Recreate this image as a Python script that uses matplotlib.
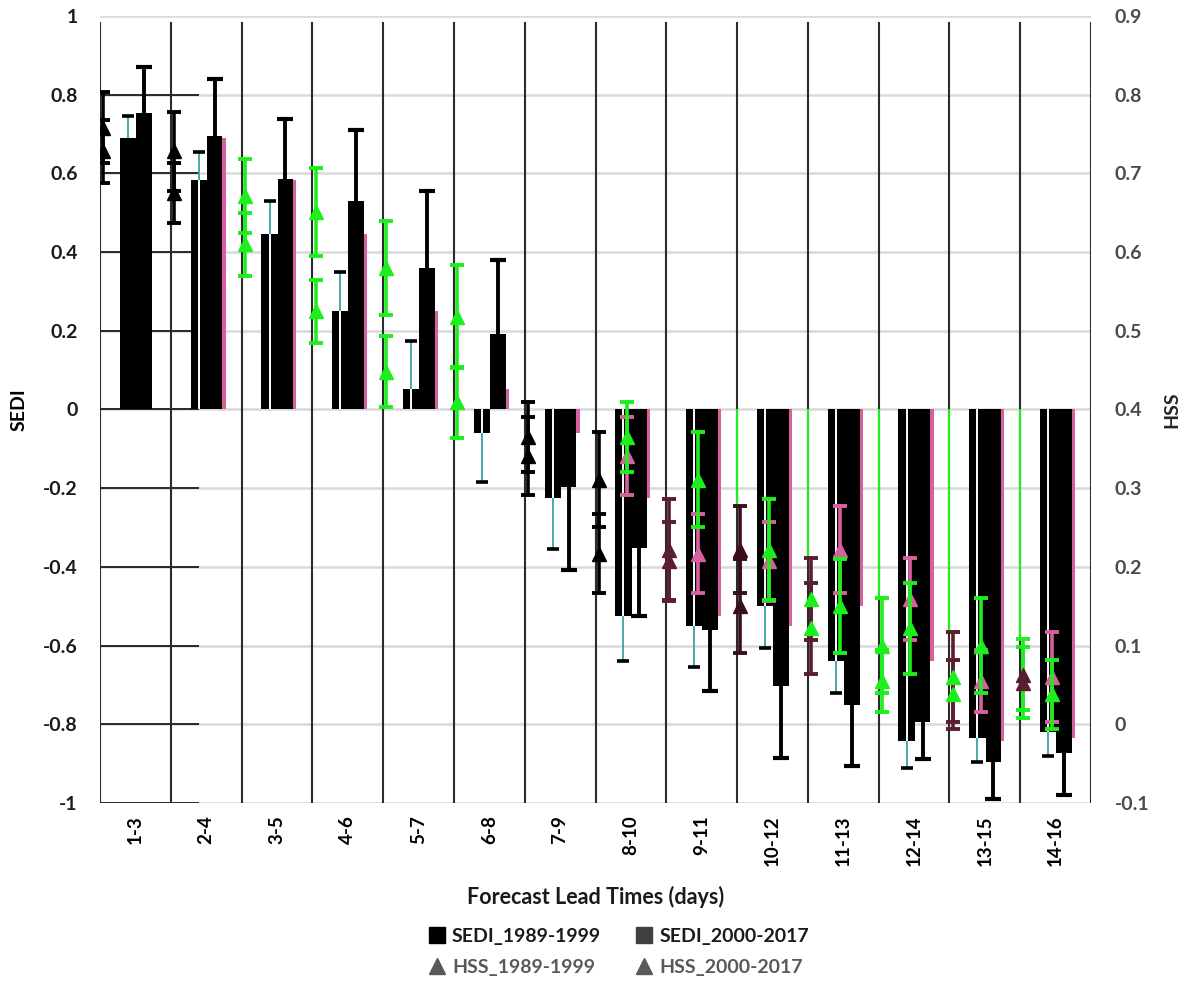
import numpy as np
import matplotlib
matplotlib.use("Agg")
import matplotlib.pyplot as plt
from matplotlib.lines import Line2D

plt.rcParams['font.family'] = ['Lato', 'DejaVu Sans']
plt.rcParams['font.weight'] = 'bold'

# ---------------- data ----------------
categories = ['1-3', '2-4', '3-5', '4-6', '5-7', '6-8', '7-9', '8-10',
              '9-11', '10-12', '11-13', '12-14', '13-15', '14-16']

sedi_8999 = [0.69, 0.583, 0.445, 0.25, 0.052, -0.059, -0.226, -0.525,
             -0.55, -0.50, -0.64, -0.843, -0.836, -0.82]
sedi_8999_err = [0.055, 0.072, 0.085, 0.10, 0.122, 0.125, 0.128, 0.115,
                 0.104, 0.105, 0.08, 0.067, 0.061, 0.06]
sedi_0017 = [0.754, 0.695, 0.587, 0.53, 0.36, 0.192, -0.198, -0.352,
             -0.56, -0.703, -0.75, -0.795, -0.897, -0.873]
sedi_0017_err = [0.116, 0.145, 0.152, 0.18, 0.195, 0.188, 0.209, 0.173,
                 0.156, 0.182, 0.157, 0.092, 0.093, 0.107]

hss_8999 = [0.728, 0.675, 0.61, 0.525, 0.448, 0.409, 0.341, 0.217,
            0.207, 0.222, 0.159, 0.055, 0.06, 0.063]
hss_8999_err = [0.04, 0.038, 0.04, 0.04, 0.045, 0.045, 0.05, 0.05,
                0.05, 0.055, 0.052, 0.04, 0.057, 0.045]
hss_0017 = [0.758, 0.728, 0.671, 0.651, 0.58, 0.518, 0.365, 0.311,
            0.222, 0.15, 0.122, 0.10, 0.038, 0.053]
hss_0017_err = [0.045, 0.05, 0.047, 0.056, 0.06, 0.065, 0.045, 0.06,
                0.064, 0.06, 0.058, 0.06, 0.044, 0.045]

sedi_ticks = [-1, -0.8, -0.6, -0.4, -0.2, 0, 0.2, 0.4, 0.6, 0.8, 1]
sedi_ticklabels = ['-1', '-0.8', '-0.6', '-0.4', '-0.2', '0', '0.2', '0.4', '0.6', '0.8', '1']
hss_ticks = [-0.1, 0, 0.1, 0.2, 0.3, 0.4, 0.5, 0.6, 0.7, 0.8, 0.9]
hss_ticklabels = ['-0.1', '0', '0.1', '0.2', '0.3', '0.4', '0.5', '0.6', '0.7', '0.8', '0.9']

# ---------------- style ----------------
GREEN = '#1cef1c'
PINK = '#d660a0'
MAROON = '#5a1e2e'
TEAL = '#3aa0a8'
left_marker_colors = ['black', 'black', GREEN, GREEN, GREEN, GREEN, 'black', 'black',
                      MAROON, '#3a0f1a', GREEN, GREEN, GREEN, MAROON]
left_err_colors = ['black', 'black', GREEN, GREEN, GREEN, GREEN, 'black', 'black',
                   MAROON, '#3a0f1a', MAROON, GREEN, MAROON, GREEN]

W, H = 1191, 988
fig = plt.figure(figsize=(W / 100, H / 100), dpi=100)
ax = fig.add_axes([100 / W, 1 - 803 / H, 991 / W, 787 / H])
ax.set_xlim(0, 14)
ax.set_ylim(-1, 1)
for s in ax.spines.values():
    s.set_visible(False)
ax2 = ax.twinx()
ax2.set_ylim(-0.1, 0.9)
for s in ax2.spines.values():
    s.set_visible(False)

n = len(categories)
x = np.arange(n)
s1 = np.array(sedi_8999)
s1e = np.array(sedi_8999_err)
s2 = np.array(sedi_0017)
s2e = np.array(sedi_0017_err)
h1 = np.array(hss_8999)
h1e = np.array(hss_8999_err)
h2 = np.array(hss_0017)
h2e = np.array(hss_0017_err)

# gridlines and separators
ax.hlines(sedi_ticks, 0, n, color='#d9d9d9', lw=1.8, zorder=0.5)
ax.hlines(sedi_ticks[:-1], 0, 1.4, color='#1a1a1a', lw=1.3, zorder=0.6)
ax.vlines(np.arange(n + 1), -1, 0.985, color='#2b2b2b', lw=1.5, zorder=0.7)

# green overlay on separators of later groups (down to HSS error top)
for i in range(9, n):
    top = max(h1[i] + h1e[i], h2[i] + h2e[i])
    ax2.vlines(i, top, 0.4, color=GREEN, lw=1.5, zorder=0.8)

# pink shifted copy of SEDI 1989-1999 bars (behind)
ax.bar(x[1:] + 0.52, s1[:-1], width=0.255, align='edge', color=PINK, zorder=2)
# main bars
ax.bar(x + 0.28, s1, width=0.23, align='edge', color='black', zorder=3)
ax.bar(x + 0.51, s2, width=0.22, align='edge', color='black', zorder=3)

# bar1 inner line and error bars
c1 = x + 0.395
ax.vlines(c1[1:], 0, s1[1:], color='white', lw=1.4, zorder=4)
end1 = s1 + np.sign(s1) * s1e
ax.vlines(c1, s1, end1, color=TEAL, lw=1.3, zorder=4)
ax.plot(c1, end1, ls='none', marker='_', ms=8, mew=2.6, color='black', zorder=5)

# bar2 error bars
c2 = x + 0.62
end2 = s2 + np.sign(s2) * s2e
ax.vlines(c2, s2, end2, color='black', lw=2.8, zorder=4)
ax.plot(c2, end2, ls='none', marker='_', ms=11, mew=3, color='black', zorder=5)

# HSS markers, left column of each group
for i in range(n):
    for val, err in ((h1[i], h1e[i]), (h2[i], h2e[i])):
        ax2.errorbar(i + 0.045, val, yerr=err, fmt='^', ms=10.5,
                     color=left_marker_colors[i], ecolor=left_err_colors[i],
                     elinewidth=2.6, capsize=5, capthick=2.8, zorder=6)

# HSS shifted copy drawn over later groups
for i in range(6, n - 1):
    ax2.errorbar(i + 1.45, h1[i], yerr=h1e[i], fmt='^', ms=10.5, color=PINK,
                 ecolor=PINK, elinewidth=2.6, capsize=5, capthick=2.8, zorder=7)
    ax2.errorbar(i + 1.45, h2[i], yerr=h2e[i], fmt='^', ms=10.5, color=GREEN,
                 ecolor=GREEN, elinewidth=2.6, capsize=5, capthick=2.8, zorder=8)

# ticks
ax.set_xticks(x + 0.5)
ax.set_xticklabels(categories, rotation=90, fontsize=13.5, fontweight='bold')
ax.tick_params(axis='x', length=0, pad=9)
ax.set_yticks(sedi_ticks)
ax.set_yticklabels(sedi_ticklabels, fontsize=14, fontweight='bold', color='#1a1a1a')
ax.tick_params(axis='y', length=0, pad=16)
ax2.set_yticks(hss_ticks)
ax2.set_yticklabels(hss_ticklabels, fontsize=14, fontweight='bold', color='#4a4a4a')
ax2.tick_params(axis='y', length=0, pad=17)

ax.set_ylabel('SEDI', fontsize=14, fontweight='bold')
ax.yaxis.set_label_coords(-0.0727, 0.5)
ax2.set_ylabel('HSS', fontsize=14, fontweight='bold', color='#262626')
ax2.yaxis.set_label_coords(1.0727, 0.5)

fig.text(595.5 / W, 1 - 897 / H, 'Forecast Lead Times (days)', ha='center',
         va='center', fontsize=15.5, fontweight='bold', color='#1a1a1a')

handles = [
    Line2D([], [], ls='none', marker='s', ms=12, color='black'),
    Line2D([], [], ls='none', marker='^', ms=12, color='#595959'),
    Line2D([], [], ls='none', marker='s', ms=12, color='#404040'),
    Line2D([], [], ls='none', marker='^', ms=12, color='#595959'),
]
labels = ['SEDI_1989-1999', 'HSS_1989-1999', 'SEDI_2000-2017', 'HSS_2000-2017']
leg = fig.legend(handles, labels, ncol=2, loc='center', bbox_to_anchor=(617 / W, 1 - 952 / H),
                 frameon=False, prop={'size': 14, 'weight': 'bold'},
                 handletextpad=0.2, columnspacing=1.6, labelspacing=0.7, handlelength=1.2)
for t, c in zip(leg.get_texts(), ['#1a1a1a', '#595959', '#1a1a1a', '#595959']):
    t.set_color(c)

fig.savefig('out.png', dpi=100)
